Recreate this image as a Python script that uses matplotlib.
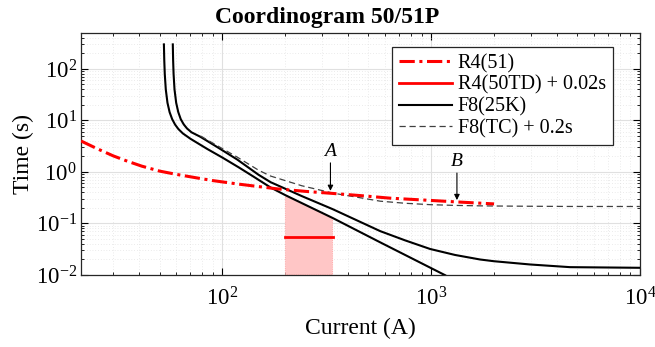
import matplotlib
matplotlib.use('Agg')
import matplotlib.pyplot as plt
from matplotlib.ticker import LogLocator, NullFormatter

# R4 relay, inverse time element (51)
r4_51_I = [21, 25, 30, 35, 41, 50, 60, 75, 90, 120, 183, 250, 333, 450, 637, 1000, 1330, 2000]
r4_51_t = [4.0, 2.85, 2.05, 1.62, 1.3, 1.04, 0.9, 0.77, 0.68, 0.58, 0.47, 0.42, 0.385,
           0.35, 0.31, 0.28, 0.262, 0.24]

# R4 relay, definite time element (50TD) + 0.02 s
r4_50_I = [200, 337]
r4_50_t = [0.054, 0.054]

# fuse F8 25K, minimum melt
mm_I = [52.4, 52.6, 52.9, 53.5, 54.5, 55.8, 57.4, 59.3, 61.5, 64.6, 70.3, 84.5, 100, 120, 139,
        170, 200, 337, 570, 1166]
mm_t = [300, 150, 80, 40, 22, 14.5, 10.6, 8.3, 6.8, 5.6, 4.4, 2.8, 1.9, 1.22, 0.84,
        0.5, 0.355, 0.128, 0.043, 0.0099]

# fuse F8 25K, total clearing
tc_I = [57.8, 58.0, 58.3, 58.9, 60, 61.4, 63.1, 65.2, 67.6, 71, 78.5, 94.3, 117.5, 149, 170,
        240, 337, 570, 750, 988, 1300, 1714, 2000, 2978, 4625, 10000]
tc_t = [300, 150, 80, 40, 22, 14.5, 10.6, 8.4, 7.0, 5.9, 4.8, 3.05, 1.75, 0.88, 0.634,
        0.34, 0.19, 0.071, 0.047, 0.032, 0.0245, 0.020, 0.0185, 0.016, 0.0142, 0.0138]

# total clearing + 0.2 s margin
tcm_I = [78.5, 94.3, 117.5, 149, 170, 240, 337, 570, 750, 988, 1300, 1714, 2000, 2978,
         4625, 10000]
tcm_t = [5.0, 3.25, 1.95, 1.08, 0.834, 0.54, 0.39, 0.271, 0.247, 0.232, 0.2245, 0.22,
         0.2185, 0.216, 0.2142, 0.2138]

# shaded zone under the melt curve
zone_I = [200, 337]

plt.rcParams['font.family'] = ['Liberation Serif', 'DejaVu Serif']
plt.rcParams['mathtext.fontset'] = 'stix'

fig = plt.figure(figsize=(6.55, 3.47), dpi=100)
ax = fig.add_axes([0.1237, 0.2075, 0.8533, 0.6975])

# shaded region: from bottom up to the minimum-melt curve
zone_top = [mm_t[mm_I.index(zone_I[0])], mm_t[mm_I.index(zone_I[1])]]
ax.fill_between(zone_I, [0.01, 0.01], zone_top, color='#ffc6c6',
                edgecolor='#ff9a9a', linewidth=0.6, linestyle=':', zorder=1)

ax.plot(r4_51_I, r4_51_t, color='red', lw=2.2, linestyle=(0, (5, 1.5, 1, 1.5)),
        label='R4(51)', zorder=4)
ax.plot(r4_50_I, r4_50_t, color='red', lw=2.0, label='R4(50TD) + 0.02s', zorder=4)
ax.plot(mm_I, mm_t, color='black', lw=1.5, label='F8(25K)', zorder=3)
ax.plot(tc_I, tc_t, color='black', lw=1.5, zorder=3)
ax.plot(tcm_I, tcm_t, color='0.25', lw=0.9, linestyle=(0, (5, 3)),
        label='F8(TC) + 0.2s', zorder=3)

ax.set_xscale('log')
ax.set_yscale('log')
ax.set_xlim(21, 1e4)
ax.set_ylim(1e-2, 500)

ax.xaxis.set_major_locator(LogLocator(base=10))
ax.xaxis.set_minor_locator(LogLocator(base=10, subs=range(2, 10)))
ax.xaxis.set_minor_formatter(NullFormatter())
ax.yaxis.set_major_locator(LogLocator(base=10, numticks=10))
ax.yaxis.set_minor_locator(LogLocator(base=10, subs=range(2, 10), numticks=10))
ax.yaxis.set_minor_formatter(NullFormatter())

ax.grid(True, which='major', color='0.88', lw=0.8)
ax.grid(True, which='minor', color='0.85', lw=0.5, linestyle=(0, (1, 3)))
ax.set_axisbelow(True)
ax.tick_params(which='both', direction='in', top=True, right=True, labelsize=16.5)
ax.tick_params(axis='x', which='major', pad=9)
ax.tick_params(axis='y', which='major', pad=3)
ax.tick_params(which='major', length=5, width=0.8)
ax.tick_params(which='minor', length=2.5, width=0.6)
for s in ax.spines.values():
    s.set_linewidth(0.9)
    s.set_color('0.15')

fig.text(0.5, 0.951, 'Coordinogram 50/51P', fontsize=17, fontweight='bold',
         ha='center', va='center')
ax.set_xlabel('Current (A)', fontsize=17, labelpad=5)
ax.set_ylabel('Time (s)', fontsize=17, labelpad=1)

ax.annotate('A', xy=(329, 0.43), xytext=(329, 1.7), fontsize=14, style='italic',
            ha='center', va='bottom',
            arrowprops=dict(arrowstyle='-|>', color='black', lw=0.8, mutation_scale=8,
                            shrinkA=0, shrinkB=0))
ax.annotate('B', xy=(1328, 0.285), xytext=(1328, 1.08), fontsize=14, style='italic',
            ha='center', va='bottom',
            arrowprops=dict(arrowstyle='-|>', color='black', lw=0.8, mutation_scale=8,
                            shrinkA=0, shrinkB=0))

leg = ax.legend(loc='upper right', bbox_to_anchor=(0.9517, 0.942), borderaxespad=0,
                fontsize=14.5, frameon=True, fancybox=False, edgecolor='0.15', framealpha=1,
                handlelength=2.6, labelspacing=0.12, borderpad=0.35, handletextpad=0.3)
leg.get_frame().set_linewidth(0.9)

plt.savefig('out.png', dpi=100)
